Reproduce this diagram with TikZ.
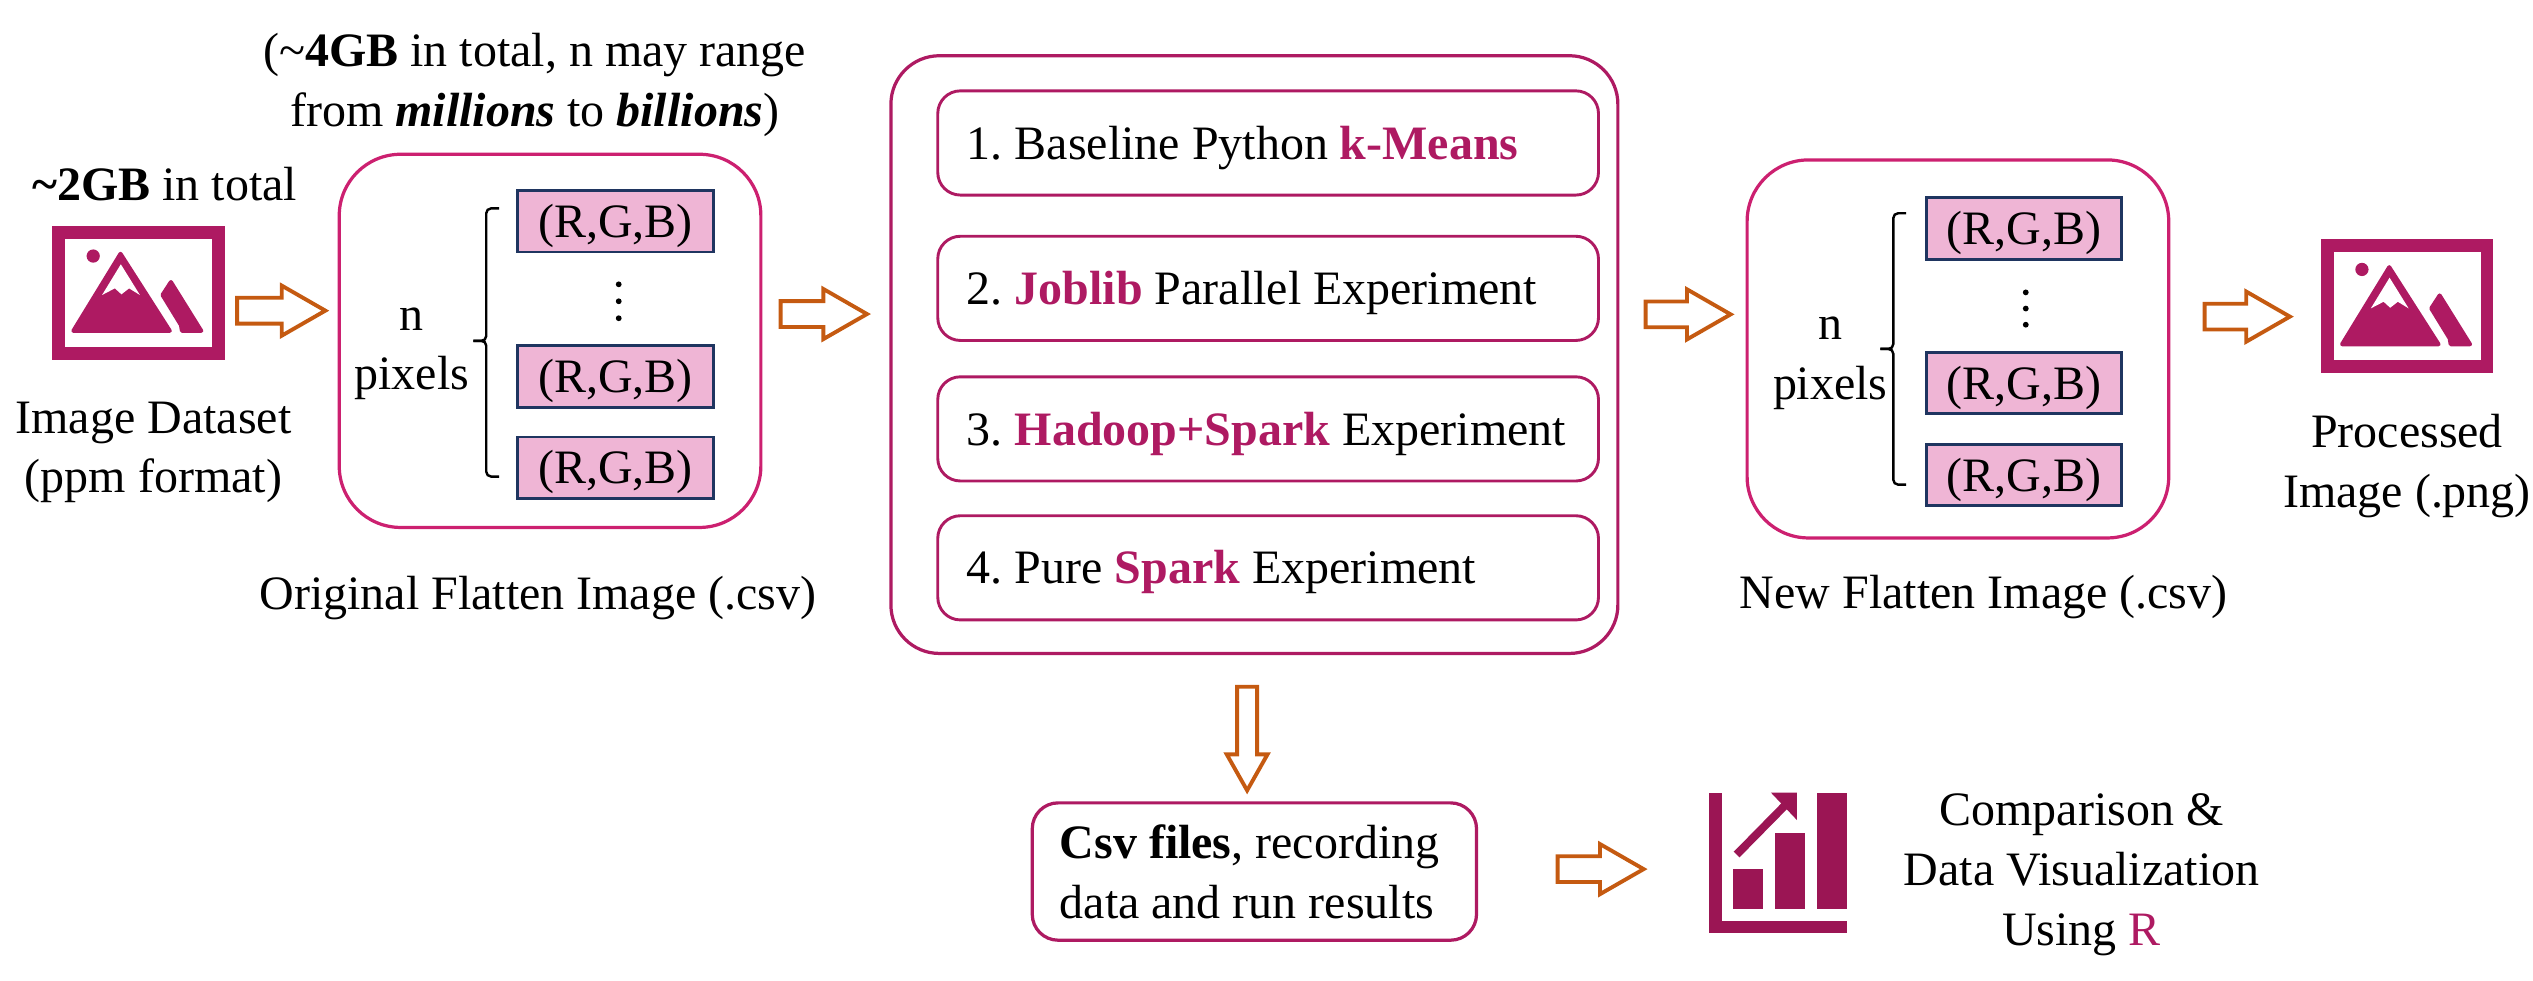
\documentclass[tikz,border=0pt]{standalone}
\usepackage{fontspec}
\setmainfont{Liberation Serif}
\usetikzlibrary{calc}
\frenchspacing
\definecolor{boxline}{HTML}{CC2070}
\definecolor{magtext}{HTML}{AE1A62}
\definecolor{chartc}{HTML}{9B1554}
\definecolor{rgbfill}{HTML}{EFB5D5}
\definecolor{rgbline}{HTML}{1F3560}
\definecolor{arrowc}{HTML}{C55A11}
\newcommand{\hl}[1]{\textbf{\textcolor{magtext}{#1}}}

\tikzset{
	every node/.style={font=\fontsize{29.7}{37}\selectfont,align=center,inner sep=0pt},
	flatbox/.style={draw=boxline,line width=2pt,rounded corners=38pt,minimum width=261pt,minimum height=231pt},
	rgbbox/.style={draw=rgbline,fill=rgbfill,line width=1.8pt,minimum width=121pt,minimum height=38pt,text height=23pt,text depth=3pt},
	stepbox/.style={draw=magtext,line width=1.8pt,rounded corners=14pt,minimum width=409pt,minimum height=64.5pt,text width=373pt,align=flush left,text height=23pt,text depth=3pt},
	imagebox/.style={draw=magtext,line width=8pt,minimum width=99pt,minimum height=75pt},
	bracket/.style={draw=black,line width=1.5pt,rounded corners=3pt},
	blockshape/.style n args={5}{draw=arrowc,line width=2.4pt,to path={
		let \p1=(\tikztostart),\p2=(\tikztotarget),
			\n1={atan2(\y2-\y1,\x2-\x1)},\n2={veclen(\x2-\x1,\y2-\y1)-#2pt} in
		([shift={(\p1)},rotate=\n1]#1pt,#3pt) -- ([shift={(\p1)},rotate=\n1]\n2-#5pt,#3pt)
		-- ([shift={(\p1)},rotate=\n1]\n2-#5pt,#4pt) -- ([shift={(\p1)},rotate=\n1]\n2,0pt)
		-- ([shift={(\p1)},rotate=\n1]\n2-#5pt,-#4pt) -- ([shift={(\p1)},rotate=\n1]\n2-#5pt,-#3pt)
		-- ([shift={(\p1)},rotate=\n1]#1pt,-#3pt) -- cycle}},
	blockarrow/.style 2 args={blockshape={#1}{#2}{8}{15.5}{27}},
	downarrow/.style 2 args={blockshape={#1}{#2}{6.2}{12.6}{22.3}},
	pics/mountain/.style={code={
		\fill[magtext,line join=round,draw=magtext,line width=2.5pt]
			(-40.2,23.6) -- (-11,-24.1) -- (19.5,23.6) -- cycle;
		\fill[white] (-10.8,-17.6) -- (-22.4,1.4) -- (-14.5,-2.7) -- (-10.4,1) -- (-5.7,-2.7) -- (1,1.4) -- cycle;
		\fill[magtext] (-27.9,-22.7) circle (4.1);
		\fill[magtext,line join=round,draw=magtext,line width=2.5pt]
			(20.2,-6.6) -- (39,23.6) -- (27,23.6) -- (26.4,20) -- (15,1.4) -- cycle;
	}},
	pics/barchart/.style={code={
		\fill[chartc] (-42.7,-43.4) rectangle (-35,43.4);
		\fill[chartc] (-42.7,36) rectangle (42.8,43.4);
		\fill[chartc] (-28,4) rectangle (-9.5,28.7);
		\fill[chartc] (-2,-18.4) rectangle (16.5,28.7);
		\fill[chartc] (24,-43.4) rectangle (42.8,28.7);
		\draw[chartc,line width=5pt] (-25.7,-5) -- (5.3,-36.5);
		\fill[chartc] (-4.5,-43.4) -- (11.6,-43.4) -- (11.6,-26.4) -- cycle;
	}},
}

\begin{document}
\begin{tikzpicture}[x=1pt,y=-1pt]
	\useasboundingbox (0,0) rectangle (1568,607);

	\node (sizeA) at (102,114) {\textbf{\textasciitilde 2GB} in total};
	\node[imagebox] (imgA) at (85.6,181.2) {};
	\pic at (imgA) {mountain};
	\node (imgAtext) at (95,280) {Image Dataset\\(ppm format)};

	\node (sizeB) at (331,52.5) {(\textasciitilde\textbf{4GB} in total, n may range\\from \textbf{\textit{millions}} to \textbf{\textit{billions}})};
	\node[flatbox] (flatA) at (340.5,211) {};
	\node[rgbbox] (a1) at (381,137) {(R,G,B)};
	\node[rgbbox] (a2) [below of = a1,node distance=96pt] {(R,G,B)};
	\node[rgbbox] (a3) [below of = a2,node distance=56.5pt] {(R,G,B)};
	\foreach \y in {176,186.5,197}
		\fill (383,\y) circle (1.8);
	\node (apix) at (255,219) {n\\pixels};
	\draw[bracket] (309,129) -- (301,129) -- (301,211) -- (293,211);
	\draw[bracket] (293,211) -- (301,211) -- (301,295) -- (309,295);
	\node (flatAtext) at (333,370) {Original Flatten Image (.csv)};

	\node[draw=magtext,line width=2pt,rounded corners=30pt,minimum width=450pt,minimum height=370pt] (center) at (776.5,219.5) {};
	\node[stepbox] (s1) at (785,88.5) {1. Baseline Python \hl{k-Means}};
	\node[stepbox] (s2) at (785,178.5) {2. \hl{Joblib} Parallel Experiment};
	\node[stepbox] (s3) at (785,265.5) {3. \hl{Hadoop+Spark} Experiment};
	\node[stepbox] (s4) at (785,351.5) {4. Pure \hl{Spark} Experiment};

	\node[flatbox,minimum height=234pt] (flatB) at (1212,216) {};
	\node[rgbbox] (b1) at (1253,141.5) {(R,G,B)};
	\node[rgbbox] (b2) [below of = b1,node distance=95.5pt] {(R,G,B)};
	\node[rgbbox] (b3) [below of = b2,node distance=57pt] {(R,G,B)};
	\foreach \y in {181,191,201}
		\fill (1254,\y) circle (1.8);
	\node (bpix) at (1133,225) {n\\pixels};
	\draw[bracket] (1180,132) -- (1172,132) -- (1172,216) -- (1164,216);
	\draw[bracket] (1164,216) -- (1172,216) -- (1172,300) -- (1180,300);
	\node (flatBtext) at (1228,369.5) {New Flatten Image (.csv)};

	\node[imagebox] (imgB) at (1490,189.5) {};
	\pic at (imgB) {mountain};
	\node (imgBtext) at (1490,288.5) {Processed\\Image (.png)};

	\node[draw=magtext,line width=2pt,rounded corners=16pt,minimum width=275pt,minimum height=85pt,text width=241pt,align=flush left] (csv) at (776.5,539.5) {\textbf{Csv files}, recording\\data and run results};
	\node[minimum width=85.5pt,minimum height=86.8pt] (chart) at (1100.7,534) {};
	\pic at (chart) {barchart};
	\node (charttext) at (1288.5,541.5) {Comparison \&\\Data Visualization\\Using \textcolor{magtext}{R}};

	\path	(imgA.east |- 0,192.3) edge [blockarrow={7.7}{7.6}] (flatA.west |- 0,192.3)
			(flatA.east |- 0,194.4) edge [blockarrow={11.2}{13.8}] (center.west |- 0,194.4)
			(center.east |- 0,194.6) edge [blockarrow={16.2}{9.2}] (flatB.west |- 0,194.6)
			(flatB.east |- 0,196) edge [blockarrow={21.2}{19}] (imgB.west |- 0,196)
			(772,0 |- center.south) edge [downarrow={19.6}{6.7}] (772,0 |- csv.north)
			(csv.east |- 0,538) edge [blockarrow={49.2}{40.3}] (chart.west |- 0,538);
\end{tikzpicture}
\end{document}
